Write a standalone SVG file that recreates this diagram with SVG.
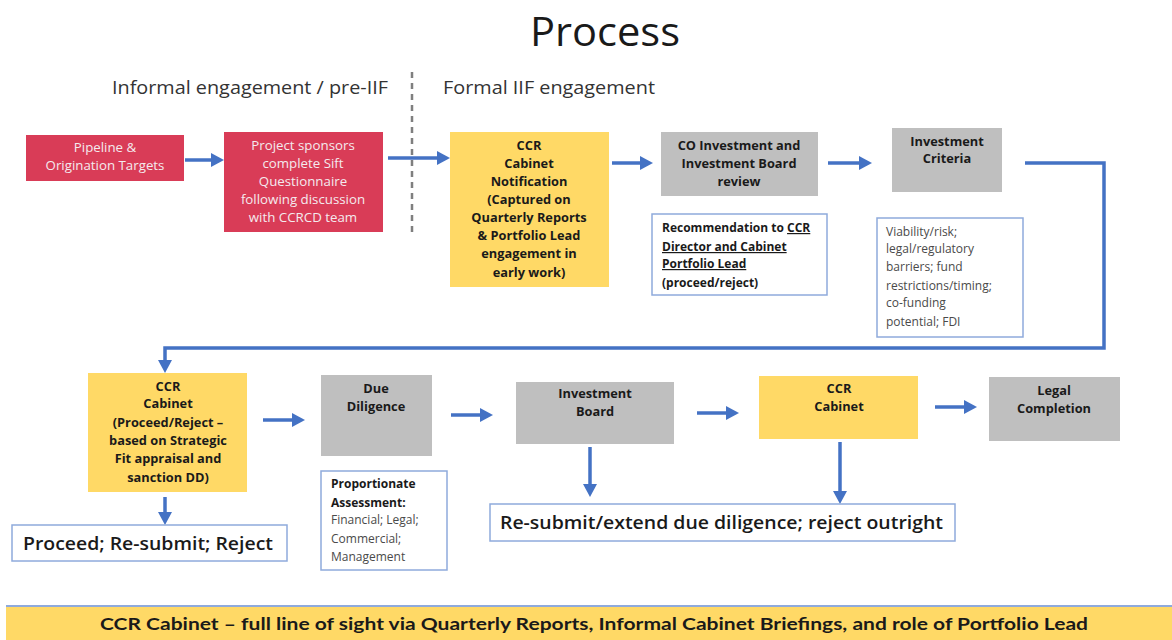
<svg xmlns="http://www.w3.org/2000/svg" width="1172" height="640" viewBox="0 0 1172 640">
<style>
  .red{fill:#d93c57;}
  .yel{fill:#ffd966;}
  .gry{fill:#bfbfbf;}
  .note{fill:#ffffff;stroke:#8faadc;stroke-width:1.5;}
  .t{font-family:"Open Sans","Liberation Sans",sans-serif;text-anchor:middle;}
  .w{fill:#f4eaee;font-size:13.3px;}
  .b{fill:#1a1a1a;font-size:12.8px;font-weight:bold;}
  .nl{font-family:"Open Sans","Liberation Sans",sans-serif;fill:#4a4a4a;font-size:12px;}
  .nb{font-family:"Open Sans","Liberation Sans",sans-serif;fill:#1a1a1a;font-size:12px;font-weight:bold;}
  .hdr{font-family:"Open Sans","Liberation Sans",sans-serif;fill:#333333;font-size:17.5px;}
  .big{font-family:"Open Sans","Liberation Sans",sans-serif;fill:#1a1a1a;font-size:18.5px;font-weight:600;}
  .conn{fill:none;stroke:#4472c4;stroke-width:3.5;}
</style>
<defs>
  <marker id="ah" markerUnits="userSpaceOnUse" markerWidth="13" markerHeight="14" refX="6" refY="7" orient="auto">
    <path d="M0,0 L13,7 L0,14 z" fill="#4472c4"/>
  </marker>
</defs>
<rect width="1172" height="640" fill="#ffffff"/>

<text x="605" y="46" font-family="Open Sans, Liberation Sans, sans-serif" font-size="40" fill="#1a1a1a" text-anchor="middle" textLength="150" lengthAdjust="spacingAndGlyphs">Process</text>
<text class="hdr" x="112" y="94" textLength="276" lengthAdjust="spacingAndGlyphs">Informal engagement / pre-IIF</text>
<text class="hdr" x="443" y="94" textLength="212" lengthAdjust="spacingAndGlyphs">Formal IIF engagement</text>
<line x1="412" y1="72" x2="412" y2="236" stroke="#7f7f7f" stroke-width="2.5" stroke-dasharray="6,5"/>

<g id="connectors">
  <line class="conn" x1="185" y1="160" x2="217" y2="160" marker-end="url(#ah)"/>
  <line class="conn" x1="388" y1="158" x2="443" y2="158" marker-end="url(#ah)"/>
  <line class="conn" x1="612" y1="163" x2="646" y2="163" marker-end="url(#ah)"/>
  <line class="conn" x1="828" y1="163" x2="865" y2="163" marker-end="url(#ah)"/>
  <polyline class="conn" points="1025,163 1104,163 1104,348 165,348 165,366" marker-end="url(#ah)"/>
  <line class="conn" x1="263" y1="420" x2="298" y2="420" marker-end="url(#ah)"/>
  <line class="conn" x1="451" y1="415" x2="486" y2="415" marker-end="url(#ah)"/>
  <line class="conn" x1="697" y1="413" x2="732" y2="413" marker-end="url(#ah)"/>
  <line class="conn" x1="935" y1="407" x2="970" y2="407" marker-end="url(#ah)"/>
  <line class="conn" x1="165" y1="497" x2="165" y2="518" marker-end="url(#ah)"/>
  <line class="conn" x1="590" y1="447" x2="590" y2="490" marker-end="url(#ah)"/>
  <line class="conn" x1="840" y1="442" x2="840" y2="497" marker-end="url(#ah)"/>
</g>

<g id="pipeline">
  <rect class="red" x="26" y="135" width="158" height="46"/>
  <text class="t w" x="105" y="152">Pipeline &amp;</text>
  <text class="t w" x="105" y="170">Origination Targets</text>
</g>

<g id="sponsors">
  <rect class="red" x="224" y="132" width="159" height="100"/>
  <text class="t w" x="303" y="150">Project sponsors</text>
  <text class="t w" x="303" y="168">complete Sift</text>
  <text class="t w" x="303" y="186">Questionnaire</text>
  <text class="t w" x="303" y="204">following discussion</text>
  <text class="t w" x="303" y="222">with CCRCD team</text>
</g>

<g id="ccr-notification">
  <rect class="yel" x="450" y="132" width="159" height="155"/>
  <text class="t b" x="529" y="150">CCR</text>
  <text class="t b" x="529" y="168">Cabinet</text>
  <text class="t b" x="529" y="186">Notification</text>
  <text class="t b" x="529" y="204">(Captured on</text>
  <text class="t b" x="529" y="222">Quarterly Reports</text>
  <text class="t b" x="529" y="240">&amp; Portfolio Lead</text>
  <text class="t b" x="529" y="258">engagement in</text>
  <text class="t b" x="529" y="277">early work)</text>
</g>

<g id="co-investment">
  <rect class="gry" x="661" y="132" width="157" height="64"/>
  <text class="t b" x="739" y="150">CO Investment and</text>
  <text class="t b" x="739" y="168">Investment Board</text>
  <text class="t b" x="739" y="186">review</text>
</g>

<g id="recommendation">
  <rect class="note" x="652" y="214" width="175" height="81"/>
  <text class="nb" x="662" y="232">Recommendation to <tspan text-decoration="underline">CCR</tspan></text>
  <text class="nb" x="662" y="251" text-decoration="underline">Director and Cabinet</text>
  <text class="nb" x="662" y="268" text-decoration="underline">Portfolio Lead</text>
  <text class="nb" x="662" y="287">(proceed/reject)</text>
</g>

<g id="investment-criteria">
  <rect class="gry" x="892" y="128" width="110" height="64"/>
  <text class="t b" x="947" y="146">Investment</text>
  <text class="t b" x="947" y="163">Criteria</text>
</g>

<g id="criteria-note">
  <rect class="note" x="877" y="218" width="146" height="119"/>
  <text class="nl" x="886" y="236">Viability/risk;</text>
  <text class="nl" x="886" y="253">legal/regulatory</text>
  <text class="nl" x="886" y="271">barriers; fund</text>
  <text class="nl" x="886" y="290">restrictions/timing;</text>
  <text class="nl" x="886" y="307">co-funding</text>
  <text class="nl" x="886" y="326">potential; FDI</text>
</g>

<g id="ccr-cabinet-1">
  <rect class="yel" x="88" y="373" width="159" height="119"/>
  <text class="t b" x="168" y="391">CCR</text>
  <text class="t b" x="168" y="408">Cabinet</text>
  <text class="t b" x="168" y="427">(Proceed/Reject –</text>
  <text class="t b" x="168" y="445">based on Strategic</text>
  <text class="t b" x="168" y="463">Fit appraisal and</text>
  <text class="t b" x="168" y="482">sanction DD)</text>
</g>

<g id="proceed-note">
  <rect class="note" x="12" y="525" width="275" height="36"/>
  <text class="big" x="23" y="550" textLength="250" lengthAdjust="spacingAndGlyphs">Proceed; Re-submit; Reject</text>
</g>

<g id="due-diligence">
  <rect class="gry" x="321" y="375" width="111" height="81"/>
  <text class="t b" x="376" y="393">Due</text>
  <text class="t b" x="376" y="411">Diligence</text>
</g>

<g id="proportionate-note">
  <rect class="note" x="321" y="471" width="126" height="99"/>
  <text class="nb" x="331" y="488">Proportionate</text>
  <text class="nb" x="331" y="507">Assessment:</text>
  <text class="nl" x="331" y="524">Financial; Legal;</text>
  <text class="nl" x="331" y="543">Commercial;</text>
  <text class="nl" x="331" y="561">Management</text>
</g>

<g id="investment-board">
  <rect class="gry" x="516" y="382" width="158" height="62"/>
  <text class="t b" x="595" y="398">Investment</text>
  <text class="t b" x="595" y="416">Board</text>
</g>

<g id="ccr-cabinet-2">
  <rect class="yel" x="759" y="376" width="159" height="63"/>
  <text class="t b" x="839" y="393">CCR</text>
  <text class="t b" x="839" y="411">Cabinet</text>
</g>

<g id="legal-completion">
  <rect class="gry" x="989" y="377" width="131" height="64"/>
  <text class="t b" x="1054" y="395">Legal</text>
  <text class="t b" x="1054" y="413">Completion</text>
</g>

<g id="resubmit-note">
  <rect class="note" x="490" y="504" width="465" height="37"/>
  <text class="big" x="500" y="529" textLength="443" lengthAdjust="spacingAndGlyphs">Re-submit/extend due diligence; reject outright</text>
</g>

<g id="banner">
  <rect x="6" y="606" width="1166" height="34" fill="#ffd966"/>
  <line x1="6" y1="606" x2="1172" y2="606" stroke="#8faadc" stroke-width="2"/>
  <text x="594" y="630" font-family="Lato, Liberation Sans, sans-serif" font-size="17.5" font-weight="bold" fill="#1a1a1a" text-anchor="middle" textLength="988" lengthAdjust="spacingAndGlyphs">CCR Cabinet – full line of sight via Quarterly Reports, Informal Cabinet Briefings, and role of Portfolio Lead</text>
</g>
</svg>
